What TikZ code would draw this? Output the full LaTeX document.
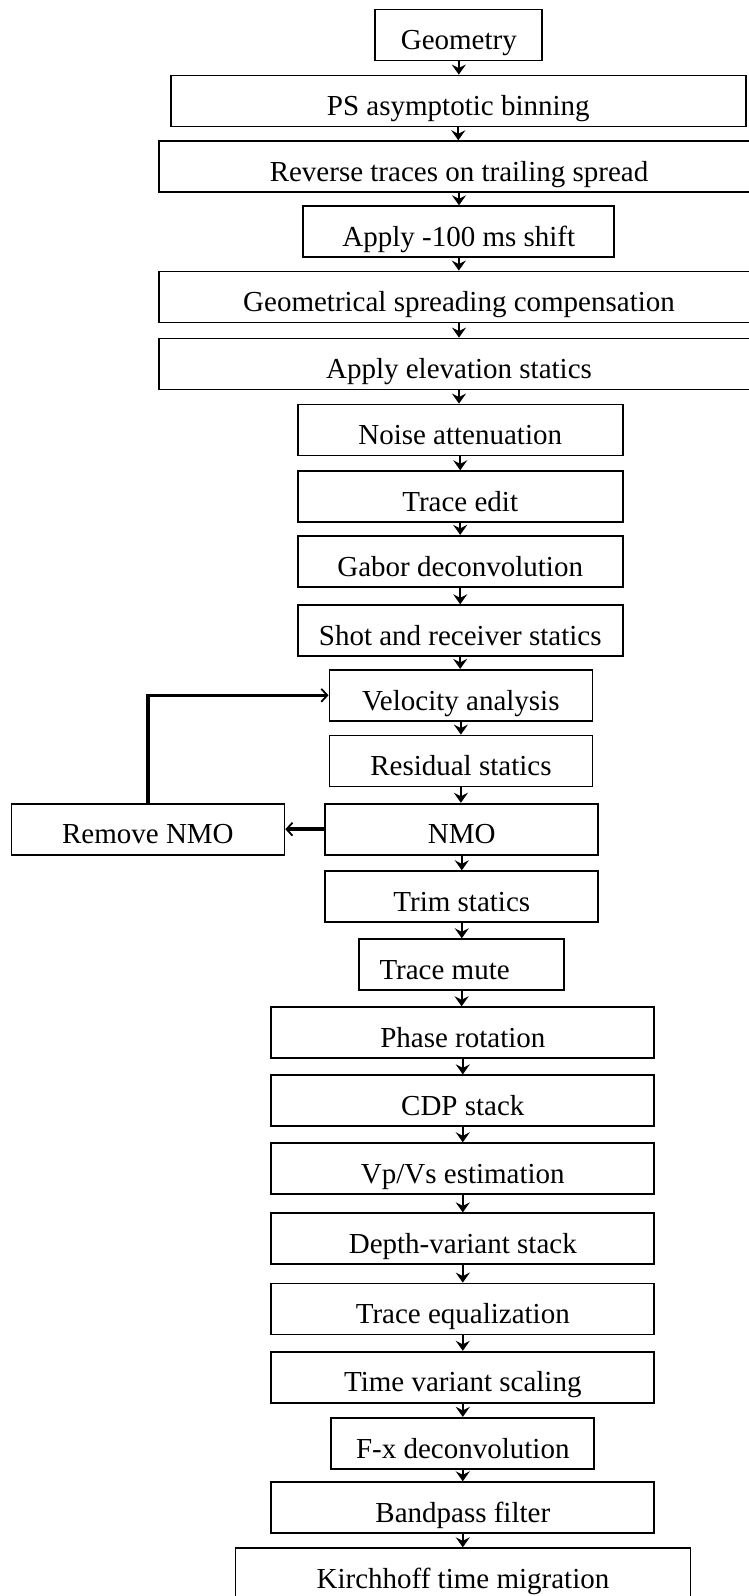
\documentclass[tikz,border=0pt]{standalone}
\usepackage{fontspec}
\setmainfont{Liberation Serif}
\usetikzlibrary{arrows.meta}

\begin{document}
\begin{tikzpicture}[x=1pt, y=-1pt,
    etape/.style={draw, line width=1.8pt, minimum height=51pt, inner sep=0pt, text height=30pt, text depth=0.6pt, font=\fontsize{29}{34}\selectfont},
    fleche/.style={line width=2pt, -{Stealth[length=10pt,width=14pt,inset=3.5pt]}},
    retour/.style={line width=3.5pt, -{Straight Barb[length=6pt,width=13pt,line width=1.8pt]}}]
    \useasboundingbox (0,0) rectangle (748,1596); % Cadre de la page
    % Chaîne principale
    \node[etape, minimum width=167pt] (geo) at (458.8,35) {Geometry};
    \node[etape, minimum width=575pt] (psb) at (458.3,101) {PS asymptotic binning};
    \node[etape, minimum width=600pt] (rev) at (459,166.7) {Reverse traces on trailing spread};
    \node[etape, minimum width=311pt] (shift) at (458.8,231.7) {Apply -100 ms shift};
    \node[etape, minimum width=600pt] (gsc) at (459,297) {Geometrical spreading compensation};
    \node[etape, minimum width=600pt] (elev) at (459,364) {Apply elevation statics};
    \node[etape, minimum width=325pt] (noise) at (460.2,430) {Noise attenuation};
    \node[etape, minimum width=325pt] (edit) at (460.2,496.7) {Trace edit};
    \node[etape, minimum width=325pt] (gabor) at (460.2,561.3) {Gabor deconvolution};
    \node[etape, minimum width=325pt] (shot) at (460.2,630.7) {Shot and receiver statics};
    \node[etape, minimum width=263pt] (vel) at (460.9,695.3) {Velocity analysis};
    \node[etape, minimum width=263pt] (res) at (460.9,761) {Residual statics};
    \node[etape, minimum width=273pt] (nmo) at (461.8,829.2) {NMO};
    \node[etape, minimum width=273pt] (rnmo) at (147.9,829.2) {Remove NMO}; % Boucle de retour
    \node[etape, minimum width=273pt] (trim) at (461.8,896.7) {Trim statics};
    \node[etape, minimum width=205pt] (mute) at (461.6,964.7) {Trace mute\hspace*{34pt}};
    \node[etape, minimum width=383pt] (phase) at (462.8,1032.7) {Phase rotation};
    \node[etape, minimum width=383pt] (cdp) at (462.8,1100.8) {CDP stack};
    \node[etape, minimum width=383pt] (vpvs) at (462.8,1168.7) {Vp/Vs estimation};
    \node[etape, minimum width=383pt] (dvs) at (462.8,1238.8) {Depth-variant stack};
    \node[etape, minimum width=383pt] (teq) at (462.8,1309) {Trace equalization};
    \node[etape, minimum width=383pt] (tvs) at (462.8,1377.2) {Time variant scaling};
    \node[etape, minimum width=263pt] (fx) at (462.8,1443.3) {F-x deconvolution};
    \node[etape, minimum width=383pt] (bp) at (462.8,1507.7) {Bandpass filter};
    \node[etape, minimum width=455pt] (kir) at (463,1573.7) {Kirchhoff time migration};
    % Flèches verticales
    \draw[fleche] (geo.south) -- (geo.south |- psb.north);
    \draw[fleche] (psb.south) -- (psb.south |- rev.north);
    \draw[fleche] (rev.south) -- (rev.south |- shift.north);
    \draw[fleche] (shift.south) -- (shift.south |- gsc.north);
    \draw[fleche] (gsc.south) -- (gsc.south |- elev.north);
    \draw[fleche] (elev.south) -- (elev.south |- noise.north);
    \draw[fleche] (noise.south) -- (noise.south |- edit.north);
    \draw[fleche] (edit.south) -- (edit.south |- gabor.north);
    \draw[fleche] (gabor.south) -- (gabor.south |- shot.north);
    \draw[fleche] (shot.south) -- (shot.south |- vel.north);
    \draw[fleche] (vel.south) -- (vel.south |- res.north);
    \draw[fleche] (res.south) -- (res.south |- nmo.north);
    \draw[fleche] (nmo.south) -- (nmo.south |- trim.north);
    \draw[fleche] (trim.south) -- (trim.south |- mute.north);
    \draw[fleche] (mute.south) -- (mute.south |- phase.north);
    \draw[fleche] (phase.south) -- (phase.south |- cdp.north);
    \draw[fleche] (cdp.south) -- (cdp.south |- vpvs.north);
    \draw[fleche] (vpvs.south) -- (vpvs.south |- dvs.north);
    \draw[fleche] (dvs.south) -- (dvs.south |- teq.north);
    \draw[fleche] (teq.south) -- (teq.south |- tvs.north);
    \draw[fleche] (tvs.south) -- (tvs.south |- fx.north);
    \draw[fleche] (fx.south) -- (fx.south |- bp.north);
    \draw[fleche] (bp.south) -- (bp.south |- kir.north);
    % Boucle NMO
    \draw[retour] (nmo.west) -- (rnmo.east);
    \draw[retour] (rnmo.north) |- (vel.west);
\end{tikzpicture}
\end{document}
